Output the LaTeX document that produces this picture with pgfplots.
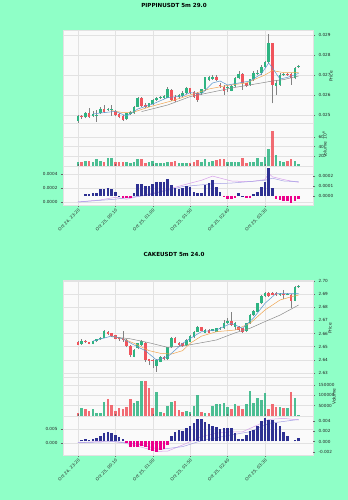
\documentclass[border=0pt]{standalone}
\usepackage{pgfplots}
\pgfplotsset{compat=1.18}
\usepackage{pgfplotstable}
\usepackage{fontspec}
\setmainfont{DejaVu Sans}
\definecolor{bgmint}{RGB}{143,255,199}
\definecolor{panelbg}{RGB}{250,250,250}
\definecolor{gridc}{RGB}{226,226,226}
\definecolor{upc}{RGB}{46,180,130}
\definecolor{downc}{RGB}{240,84,92}
\definecolor{wickc}{RGB}{130,130,130}
\definecolor{mablue}{RGB}{90,150,205}
\definecolor{maorange}{RGB}{240,165,80}
\definecolor{magray}{RGB}{140,140,140}
\definecolor{macdA}{RGB}{215,160,235}
\definecolor{macdB}{RGB}{165,160,230}

\pgfplotstableread{
i o h l c v u
0 0.02472 0.02500 0.02462 0.02495 9 1
1 0.02493 0.02500 0.02482 0.02488 9 0
2 0.02488 0.02517 0.02483 0.02508 10 1
3 0.02512 0.02533 0.02487 0.02492 10 0
4 0.02497 0.02522 0.02490 0.02505 9 1
5 0.02495 0.02525 0.02467 0.02500 14 1
6 0.02508 0.02540 0.02505 0.02532 11 1
7 0.02532 0.02548 0.02512 0.02517 8 0
8 0.02525 0.02537 0.02520 0.02532 17 1
9 0.02525 0.02550 0.02497 0.02530 17 1
10 0.02520 0.02527 0.02493 0.02500 7.6 0
11 0.02505 0.02510 0.02483 0.02488 7.6 0
12 0.02495 0.02500 0.02470 0.02475 7.6 0
13 0.02478 0.02512 0.02475 0.02508 7.6 1
14 0.02505 0.02520 0.02500 0.02515 5.5 1
15 0.02508 0.02545 0.02505 0.02542 9 1
16 0.02542 0.02592 0.02538 0.02587 14.5 1
17 0.02587 0.02590 0.02540 0.02545 14 0
18 0.02550 0.02558 0.02537 0.02542 5.5 0
19 0.02542 0.02562 0.02538 0.02558 7.6 1
20 0.02555 0.02580 0.02550 0.02575 9.7 1
21 0.02575 0.02592 0.02570 0.02587 5.5 1
22 0.02585 0.02595 0.02580 0.02590 5.5 1
23 0.02587 0.02600 0.02582 0.02595 7 1
24 0.02587 0.02640 0.02583 0.02628 9 1
25 0.02625 0.02632 0.02570 0.02575 7.6 0
26 0.02592 0.02600 0.02565 0.02570 11 0
27 0.02588 0.02605 0.02582 0.02600 5.5 1
28 0.02595 0.02618 0.02590 0.02612 5.5 1
29 0.02608 0.02640 0.02605 0.02633 5.5 1
30 0.02633 0.02637 0.02605 0.02612 7 0
31 0.02617 0.02620 0.02585 0.02592 9 0
32 0.02612 0.02617 0.02565 0.02575 12.4 0
33 0.02608 0.02632 0.02600 0.02628 7.6 1
34 0.02628 0.02692 0.02620 0.02688 15 1
35 0.02675 0.02695 0.02670 0.02688 9 1
36 0.02680 0.02700 0.02675 0.02692 11 1
37 0.02692 0.02698 0.02668 0.02675 12.4 0
38 0.02648 0.02660 0.02635 0.02645 14 0
39 0.02642 0.02650 0.02600 0.02620 14.5 0
40 0.02635 0.02648 0.02615 0.02640 9 1
41 0.02622 0.02650 0.02618 0.02645 7.6 1
42 0.02645 0.02688 0.02640 0.02683 7.6 1
43 0.02683 0.02720 0.02678 0.02705 9 1
44 0.02705 0.02712 0.02625 0.02658 16 0
45 0.02658 0.02662 0.02640 0.02645 5.5 0
46 0.02650 0.02682 0.02645 0.02678 9 1
47 0.02678 0.02718 0.02672 0.02712 9 1
48 0.02710 0.02725 0.02700 0.02712 17 1
49 0.02708 0.02748 0.02702 0.02742 9 1
50 0.02742 0.02772 0.02735 0.02767 18 1
51 0.02767 0.02903 0.02760 0.02858 34.5 1
52 0.02858 0.02862 0.02558 0.02650 73 0
53 0.02645 0.02675 0.02600 0.02658 23 1
54 0.02650 0.02708 0.02645 0.02700 11 1
55 0.02702 0.02712 0.02695 0.02705 9 1
56 0.02705 0.02712 0.02695 0.02702 11 0
57 0.02705 0.02712 0.02650 0.02683 14.5 0
58 0.02683 0.02742 0.02678 0.02737 11 1
59 0.02740 0.02750 0.02737 0.02745 4 1
}\toptab

\pgfplotstableread{
i o h l c v u
0 2.6536 2.6541 2.6513 2.6516 12900 0
1 2.6521 2.6556 2.6516 2.6546 40300 1
2 2.6543 2.6548 2.6528 2.6533 32000 0
3 2.6533 2.6538 2.6518 2.6523 24000 0
4 2.6523 2.6546 2.6518 2.6541 32000 1
5 2.6541 2.6561 2.6536 2.6556 16000 1
6 2.6556 2.6574 2.6551 2.6569 16000 1
7 2.6569 2.6627 2.6564 2.6619 68000 1
8 2.6614 2.6620 2.6592 2.6597 84000 0
9 2.6602 2.6607 2.6576 2.6581 52000 0
10 2.6587 2.6592 2.6556 2.6561 26000 0
11 2.6571 2.6576 2.6546 2.6556 40000 0
12 2.6564 2.6622 2.6538 2.6551 34000 0
13 2.6551 2.6556 2.6495 2.6508 44000 0
14 2.6508 2.6513 2.6424 2.6437 82000 0
15 2.6424 2.6480 2.6418 2.6475 61000 1
16 2.6488 2.6530 2.6480 2.6526 74000 1
17 2.6513 2.6551 2.6505 2.6543 171000 1
18 2.6526 2.6538 2.6386 2.6399 171000 0
19 2.6404 2.6410 2.6360 2.6391 135000 0
20 2.6399 2.6405 2.6335 2.6391 40000 0
21 2.6353 2.6405 2.6310 2.6399 114000 1
22 2.6386 2.6430 2.6380 2.6424 19000 1
23 2.6424 2.6430 2.6395 2.6404 16000 0
24 2.6404 2.6500 2.6399 2.6495 48000 1
25 2.6495 2.6575 2.6490 2.6569 68000 1
26 2.6564 2.6570 2.6525 2.6531 71000 0
27 2.6531 2.6536 2.6505 2.6513 29000 0
28 2.6526 2.6530 2.6500 2.6508 21000 0
29 2.6513 2.6556 2.6508 2.6551 24000 1
30 2.6538 2.6587 2.6533 2.6581 19000 1
31 2.6571 2.6620 2.6566 2.6614 48000 1
32 2.6614 2.6660 2.6610 2.6652 100000 1
33 2.6647 2.6652 2.6617 2.6622 19000 0
34 2.6607 2.6632 2.6602 2.6627 13000 1
35 2.6627 2.6632 2.6602 2.6607 13000 0
36 2.6622 2.6637 2.6617 2.6632 48000 1
37 2.6614 2.6645 2.6610 2.6640 60000 1
38 2.6632 2.6650 2.6627 2.6645 60000 1
39 2.6640 2.6700 2.6635 2.6683 61000 1
40 2.6678 2.6720 2.6673 2.6698 45000 1
41 2.6696 2.6762 2.6655 2.6665 32000 0
42 2.6652 2.6690 2.6625 2.6678 56000 1
43 2.6652 2.6657 2.6620 2.6627 50000 0
44 2.6640 2.6645 2.6605 2.6614 32000 0
45 2.6619 2.6683 2.6614 2.6678 56000 1
46 2.6678 2.6746 2.6673 2.6741 123000 1
47 2.6741 2.6780 2.6736 2.6774 61000 1
48 2.6767 2.6836 2.6762 2.6830 85000 1
49 2.6830 2.6891 2.6825 2.6886 76000 1
50 2.6886 2.6916 2.6881 2.6911 113000 1
51 2.6911 2.6916 2.6881 2.6886 32000 0
52 2.6911 2.6916 2.6891 2.6896 60000 0
53 2.6911 2.6916 2.6886 2.6893 45000 0
54 2.6896 2.6906 2.6886 2.6898 45000 1
55 2.6898 2.6932 2.6860 2.6896 37000 0
56 2.6896 2.6906 2.6890 2.6898 37000 1
57 2.6896 2.6901 2.6792 2.6850 114000 0
58 2.6850 2.6960 2.6845 2.6952 87000 1
59 2.6952 2.6968 2.6950 2.6962 5000 1
}\bottab

\pgfplotstableread{
i h p
0 0 1
1 0 1
2 0.00002 1
3 0.00002 1
4 0.000027 1
5 0.00003 1
6 0.000067 1
7 0.000067 1
8 0.000077 1
9 0.00007 1
10 0.00004 1
11 0.000003 1
12 -0.00002 0
13 -0.00002 0
14 -0.00002 0
15 0.00003 1
16 0.00012 1
17 0.00012 1
18 0.0001 1
19 0.0001 1
20 0.000117 1
21 0.000137 1
22 0.000137 1
23 0.000137 1
24 0.00017 1
25 0.000107 1
26 0.000077 1
27 0.00007 1
28 0.000077 1
29 0.0001 1
30 0.000093 1
31 0.00004 1
32 0.000027 1
33 0.000027 1
34 0.00011 1
35 0.000127 1
36 0.00016 1
37 0.000087 1
38 0.000043 1
39 -0.000013 0
40 -0.000033 0
41 -0.000033 0
42 -0.000017 0
43 0.000027 1
44 0.000003 1
45 -0.000017 0
46 -0.000017 0
47 0.00002 1
48 0.000043 1
49 0.000093 1
50 0.000143 1
51 0.00028 1
52 0.000077 1
53 -0.000033 0
54 -0.00004 0
55 -0.00005 0
56 -0.00005 0
57 -0.000073 0
58 -0.00005 0
59 -0.000033 0
}\tophist

\pgfplotstableread{
i h p
0 0 1
1 0.0003 1
2 0.0005 1
3 0.0003 1
4 0.0005 1
5 0.0007 1
6 0.001 1
7 0.0017 1
8 0.0019 1
9 0.0017 1
10 0.0012 1
11 0.0008 1
12 0.0005 1
13 -0.0003 0
14 -0.0011 0
15 -0.0011 0
16 -0.001 0
17 -0.0008 0
18 -0.0011 0
19 -0.0016 0
20 -0.0019 0
21 -0.0021 0
22 -0.0017 0
23 -0.0014 0
24 -0.0006 0
25 0.001 1
26 0.0019 1
27 0.0023 1
28 0.0021 1
29 0.0026 1
30 0.003 1
31 0.0035 1
32 0.0044 1
33 0.0043 1
34 0.0037 1
35 0.0034 1
36 0.0029 1
37 0.0028 1
38 0.0025 1
39 0.0026 1
40 0.0026 1
41 0.0026 1
42 0.0016 1
43 0.0005 1
44 0.0005 1
45 0.0013 1
46 0.0021 1
47 0.0022 1
48 0.0029 1
49 0.0039 1
50 0.0045 1
51 0.0042 1
52 0.0042 1
53 0.0035 1
54 0.0029 1
55 0.0019 1
56 0.0011 1
57 0 1
58 0.0003 1
59 0.0006 1
}\bothist

\pgfplotsset{
  panel/.style={
    scale only axis, width=250bp, xmin=-4, xmax=62.85,
    axis background/.style={fill=panelbg},
    axis line style={draw=gridc},
    grid=major, grid style={gridc, line width=0.5bp},
    tick label style={font=\fontsize{4.2}{5}\selectfont, text=black!85},
    label style={font=\fontsize{4.4}{5}\selectfont, text=black!85},
    major tick length=2bp, tick align=outside,
    tick style={black!60, line width=0.4bp},
    xtick={0,10,20,30,40,50}, scaled ticks=false,
    /pgf/number format/assume math mode=true,
    point meta min=0, point meta max=1,
    colormap={updown}{color=(downc) color=(upc)},
  },
  upper/.style={panel, xticklabels={}, xtick style={draw=none}},
  rightticks/.style={ytick pos=right, yticklabel pos=right},
  wick/.style={wickc, line width=0.5bp, quiver={u=0, v=\thisrow{h}-\thisrow{l}}},
  body/.style={line width=2.6bp, point meta=explicit,
    quiver={u=0, v=\thisrow{c}-\thisrow{o}, colored=mapped color}},
  vol/.style={line width=2.6bp, opacity=0.85, point meta=explicit,
    quiver={u=0, v=\thisrow{v}, colored=mapped color}},
  hist/.style={line width=2.6bp, point meta=explicit,
    quiver={u=0, v=\thisrow{h}, colored=mapped color}},
}

\begin{document}
\begin{tikzpicture}
\fill[bgmint] (0,0) rectangle (348bp,500bp);
\useasboundingbox (0,0) rectangle (348bp,500bp);

\node[font=\bfseries\fontsize{5.6}{6}\selectfont] at (174bp,495bp) {PIPPINUSDT 5m 29.0};
\node[font=\bfseries\fontsize{5.6}{6}\selectfont] at (174bp,246bp) {CAKEUSDT 5m 24.0};

% ---------- top price
\begin{axis}[upper, rightticks, at={(63bp,470bp)}, anchor=north west, height=93bp,
  ymin=0.0246, ymax=0.02925, ytick={0.025,0.026,0.027,0.028,0.029},
  yticklabel={\pgfmathprintnumber[fixed,fixed zerofill,precision=3]{\tick}},
  ylabel={Price}, ylabel style={at={(axis description cs:1.072,0.5)}, anchor=center}]
\addplot[wick] table[x=i, y=l] {\toptab};
\addplot[body] table[x=i, y=o, meta=u] {\toptab};
\addplot[magray, line width=0.5bp] coordinates {(17,0.02517) (24,0.02550) (30,0.02592) (36,0.02615) (42,0.02638) (49,0.02660) (52,0.02670) (55,0.02677) (59,0.02695)};
\addplot[maorange, line width=0.5bp] coordinates {(9,0.02522) (12,0.02512) (15,0.02515) (19,0.02540) (25,0.02570) (30,0.02600) (35,0.02630) (40,0.02648) (45,0.02660) (50,0.02700) (52,0.02722) (55,0.02712) (59,0.02712)};
\addplot[mablue, line width=0.5bp] coordinates {(4,0.02505) (6,0.02510) (10,0.02518) (13,0.02495) (16,0.02530) (20,0.02555) (24,0.02587) (28,0.02595) (30,0.02612) (33,0.02605) (36,0.02660) (38,0.02670) (40,0.02650) (43,0.02660) (46,0.02670) (49,0.02705) (51,0.02760) (52,0.02735) (54,0.02680) (56,0.02688) (59,0.02708)};
\end{axis}

% ---------- top volume
\begin{axis}[upper, rightticks, at={(63bp,377bp)}, anchor=north west, height=43.5bp,
  ymin=-1, ymax=89, ytick={20,40,60},
  ylabel={Volume\, 10\textsuperscript{6}}, ylabel style={at={(axis description cs:1.046,0.5)}, anchor=center}]
\addplot[vol] table[x=i, y expr=0, meta=u] {\toptab};
\end{axis}

% ---------- top MACD (lines, left axis)
\begin{axis}[panel, at={(63bp,333.5bp)}, anchor=north west, height=38.5bp,
  ymin=-0.0000429, ymax=0.000507, ytick={0,0.0002,0.0004}, ytick pos=left,
  yticklabel={\pgfmathprintnumber[fixed,fixed zerofill,precision=4]{\tick}},
  xticklabels={{Oct 24, 23:20},{Oct 25, 00:10},{Oct 25, 01:00},{Oct 25, 01:50},{Oct 25, 02:40},{Oct 25, 03:30}},
  xticklabel style={rotate=45, anchor=north east, inner sep=1bp}]
\addplot[macdA, line width=0.5bp] coordinates {(0,0) (6,0.00003) (10,0.000067) (13,0.00004) (17,0.00009) (22,0.00015) (28,0.00024) (33,0.00031) (36,0.00037) (41,0.0003) (46,0.00029) (50,0.00032) (51,0.00041) (52,0.00036) (55,0.00032) (59,0.00028)};
\addplot[macdB, line width=0.5bp] coordinates {(0,0) (10,0.00004) (19,0.0001) (28,0.00022) (36,0.00026) (41,0.00027) (50,0.00031) (52,0.00034) (55,0.0003) (59,0.00029)};
\end{axis}
% ---------- top MACD (histogram, right axis)
\begin{axis}[scale only axis, width=250bp, xmin=-4, xmax=62.85, at={(63bp,333.5bp)}, anchor=north west, height=38.5bp,
  hide x axis, axis y line*=right, axis line style={draw=none},
  ymin=-0.00009, ymax=0.000295, ytick={0,0.0001,0.0002},
  tick label style={font=\fontsize{4.2}{5}\selectfont, text=black!85},
  major tick length=2bp, tick align=outside, tick style={black!60, line width=0.4bp},
  scaled ticks=false, /pgf/number format/assume math mode=true,
  yticklabel={\pgfmathprintnumber[fixed,fixed zerofill,precision=4]{\tick}},
  point meta min=0, point meta max=1, colormap={bm}{color=(magenta) color=(blue)}]
\addplot[hist] table[x=i, y expr=0, meta=p] {\tophist};
\end{axis}

% ---------- bottom price
\begin{axis}[upper, rightticks, at={(63bp,220bp)}, anchor=north west, height=97bp,
  ymin=2.62694, ymax=2.70076, ytick={2.63,2.64,2.65,2.66,2.67,2.68,2.69,2.70},
  yticklabel={\pgfmathprintnumber[fixed,fixed zerofill,precision=2]{\tick}},
  ylabel={Price}, ylabel style={at={(axis description cs:1.068,0.5)}, anchor=center}]
\addplot[wick] table[x=i, y=l] {\bottab};
\addplot[body] table[x=i, y=o, meta=u] {\bottab};
\addplot[magray, line width=0.5bp] coordinates {(9,2.6576) (14,2.6560) (19,2.6530) (24,2.6495) (28,2.6505) (33,2.6530) (37,2.6551) (42,2.6605) (46,2.6640) (50,2.6691) (54,2.6740) (59,2.6817)};
\addplot[maorange, line width=0.5bp] coordinates {(9,2.6581) (12,2.6560) (15,2.6526) (19,2.6470) (22,2.6450) (25,2.6444) (28,2.6470) (30,2.6526) (33,2.6580) (37,2.6614) (42,2.6627) (46,2.6678) (50,2.6779) (54,2.6855) (57,2.6880) (59,2.6893)};
\addplot[mablue, line width=0.5bp] coordinates {(4,2.6543) (9,2.6581) (12,2.6560) (15,2.6513) (18,2.6470) (21,2.6399) (24,2.6424) (28,2.6526) (31,2.6580) (33,2.6614) (37,2.6627) (41,2.6678) (44,2.6640) (47,2.6720) (50,2.6830) (53,2.6906) (56,2.6906) (59,2.6906)};
\end{axis}

% ---------- bottom volume
\begin{axis}[upper, rightticks, at={(63bp,123bp)}, anchor=north west, height=39bp,
  ymin=0, ymax=188700, ytick={50000,100000,150000},
  yticklabel={\pgfmathprintnumber[fixed,precision=0,1000 sep={}]{\tick}},
  ylabel={Volume}, ylabel style={at={(axis description cs:1.084,0.5)}, anchor=center}]
\addplot[vol] table[x=i, y expr=0, meta=u] {\bottab};
\end{axis}

% ---------- bottom MACD (lines, left axis)
\begin{axis}[panel, at={(63bp,84bp)}, anchor=north west, height=39bp,
  ymin=-0.00429, ymax=0.00964, ytick={0,0.005}, ytick pos=left,
  yticklabel={\pgfmathprintnumber[fixed,fixed zerofill,precision=3]{\tick}},
  xticklabels={{Oct 24, 23:20},{Oct 25, 00:10},{Oct 25, 01:00},{Oct 25, 01:50},{Oct 25, 02:40},{Oct 25, 03:30}},
  xticklabel style={rotate=45, anchor=north east, inner sep=1bp}]
\addplot[macdA, line width=0.5bp] coordinates {(0,0.0001) (8,0.0007) (12,0.0001) (17,-0.0015) (21,-0.003) (24,-0.0029) (28,-0.0007) (33,0.0023) (37,0.0035) (41,0.004) (44,0.004) (48,0.0064) (51,0.0084) (55,0.0088) (59,0.0082)};
\addplot[macdB, line width=0.5bp] coordinates {(0,0.0001) (10,0.0005) (16,-0.0004) (22,-0.0023) (28,-0.0013) (33,0.0008) (41,0.0029) (46,0.004) (51,0.007) (59,0.0084)};
\end{axis}
% ---------- bottom MACD (histogram, right axis)
\begin{axis}[scale only axis, width=250bp, xmin=-4, xmax=62.85, at={(63bp,84bp)}, anchor=north west, height=39bp,
  hide x axis, axis y line*=right, axis line style={draw=none},
  ymin=-0.00261, ymax=0.00493, ytick={-0.002,0,0.002,0.004},
  tick label style={font=\fontsize{4.2}{5}\selectfont, text=black!85},
  major tick length=2bp, tick align=outside, tick style={black!60, line width=0.4bp},
  scaled ticks=false, /pgf/number format/assume math mode=true,
  yticklabel={\pgfmathprintnumber[fixed,fixed zerofill,precision=3]{\tick}},
  point meta min=0, point meta max=1, colormap={bm}{color=(magenta) color=(blue)}]
\addplot[hist] table[x=i, y expr=0, meta=p] {\bothist};
\end{axis}
\end{tikzpicture}
\end{document}
